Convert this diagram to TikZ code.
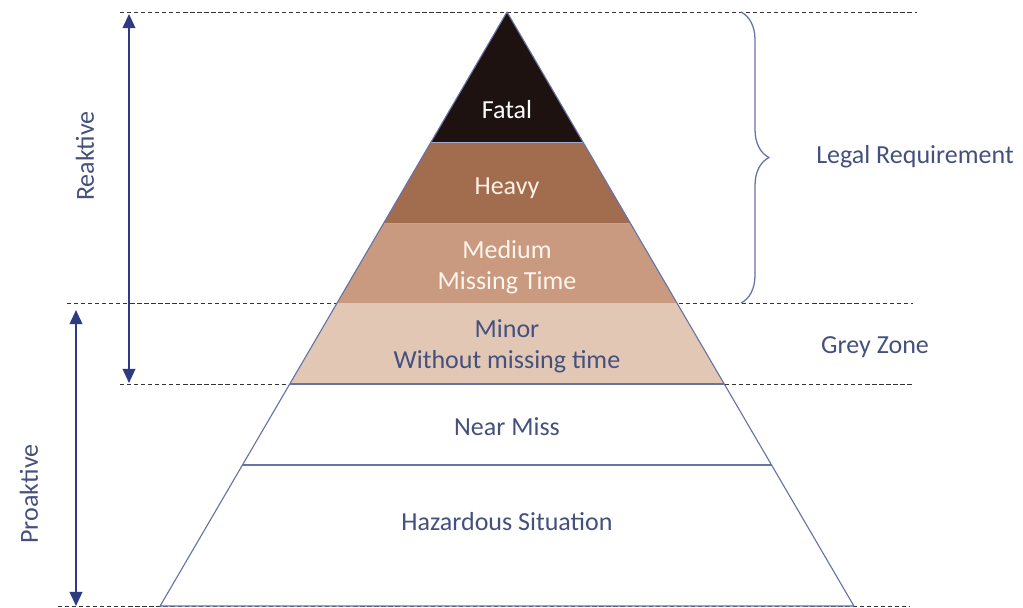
\documentclass[tikz,border=0pt]{standalone}
\usepackage{fontspec}
\setmainfont{Carlito}
\usetikzlibrary{arrows.meta,decorations.pathreplacing}
\definecolor{fatalcor}{HTML}{1E1210}
\definecolor{pesadocor}{HTML}{A26C4E}
\definecolor{mediocor}{HTML}{C99A80}
\definecolor{menorcor}{HTML}{E2C7B5}
\definecolor{azul}{HTML}{2E3B82}
\definecolor{ardosia}{HTML}{44507E}
\definecolor{contorno}{HTML}{6673A6}
\begin{document}
\begin{tikzpicture}[x=0.025cm, y=-0.025cm,
  every node/.style={font=\fontsize{18.5}{21}\selectfont, align=center, inner sep=0pt},
  line join=round
]
\tikzset{
  faixa/.style={draw=contorno!60, line width=0.6pt},
  tracejada/.style={densely dashed, draw=black!80, line width=0.6pt},
  seta/.style={azul, line width=1.1pt, {Triangle[length=10pt,width=9pt]}-{Triangle[length=10pt,width=9pt]}},
  rotulo/.style={text=ardosia},
  claro/.style={text=white}
}
\useasboundingbox (0,0) rectangle (1023,607);

% dashed guide lines
\draw[tracejada] (120,12) -- (917,12);
\draw[tracejada] (67,303) -- (913,303);
\draw[tracejada] (120,384) -- (913,384);
\draw[tracejada] (58,606) -- (910,606);

% pyramid bands
\fill[fatalcor] (507,12) -- (582.9,142) -- (431.1,142) -- cycle;
\fill[pesadocor] (431.1,142) -- (582.9,142) -- (630.2,223) -- (383.8,223) -- cycle;
\fill[mediocor] (383.8,223) -- (630.2,223) -- (676.9,303) -- (337.1,303) -- cycle;
\fill[menorcor] (337.1,303) -- (676.9,303) -- (724.2,384) -- (289.8,384) -- cycle;
\fill[white] (289.8,384) -- (724.2,384) -- (853.9,606) -- (160.1,606) -- cycle;
\draw[faixa] (431.1,142) -- (582.9,142);
\draw[faixa] (383.8,223) -- (630.2,223);
\draw[draw=contorno, line width=0.8pt] (507,12) -- (160.1,606) -- (853.9,606) -- cycle;
\draw[draw=contorno, line width=1pt] (289.8,384) -- (724.2,384);
\draw[draw=contorno, line width=0.8pt] (242.4,465) -- (771.6,465);

% band labels
\node[claro] (fatal) at (507,110) {Fatal};
\node[text=white!90!orange] (pesado) at (507,188) {Heavy};
\node[text=white!92!orange] (medio) at (507,267) {Medium\\[1pt]Missing Time};
\node[rotulo] (menor) at (507,346) {Minor\\[1pt]Without missing time};
\node[rotulo] (quase) at (507,427) {Near Miss};
\node[rotulo] (perigo) at (507,522) {Hazardous Situation};

% reaktive / proaktive
\coordinate (rtopo) at (129,14);
\coordinate (rbase) at (129,383);
\coordinate (ptopo) at (76,310);
\coordinate (pbase) at (76,606);
\draw[seta] (rtopo) -- (rbase);
\draw[seta] (ptopo) -- (pbase);
\node[rotulo, rotate=90] (reak) at (85,156) {Reaktive};
\node[rotulo, rotate=90] (proak) at (29,494) {Proaktive};

% brace and zone labels
\coordinate (btopo) at (741,12);
\coordinate (bbase) at (741,303);
\draw[contorno, line width=0.9pt, decorate, decoration={brace, amplitude=0.7cm}] (btopo) -- (bbase);
\node[rotulo] (legal) at (915,157) {Legal Requirement};
\node[rotulo] (cinza) at (875,347) {Grey Zone};
\end{tikzpicture}
\end{document}
